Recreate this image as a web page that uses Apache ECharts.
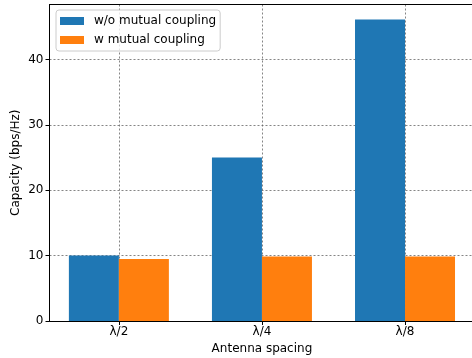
<!DOCTYPE html>
<html>
<head>
<meta charset="utf-8">
<script src="https://cdn.jsdelivr.net/npm/echarts@6/dist/echarts.min.js"></script>
<style>
  html, body { margin: 0; padding: 0; background: #fff; overflow: hidden; }
  /* a bit wider than the window: the right spine sits just off the picture */
  #chart { width: 476px; height: 358px; }
</style>
</head>
<body>
<div id="chart"></div>
<script>
// data
var categories = ['λ/2', 'λ/4', 'λ/8'];
var withoutCoupling = [10.0, 25.0, 46.1];
var withCoupling = [9.5, 9.85, 9.85];
var yTicks = [0, 10, 20, 30, 40];
var catPos = [0, 1, 2];

var font = 'DejaVu Sans';
var gridStyle = { color: '#666', type: [2, 2], width: 0.8 };
var xMin = -0.485, xMax = 2.485;

function toPoints(vals) {
	var out = [];
	for (var i = 0; i < vals.length; i++) {
		out.push([catPos[i], vals[i]]);
	}
	return out;
}

$chart = echarts.init(document.getElementById('chart'));
$chart.setOption({
	animation: false,
	textStyle: { fontFamily: font },
	grid: {
		left: 49.5, top: 4.5, bottom: 37, right: 1.6,
		containLabel: false, outerBoundsMode: 'none',
		show: false
	},
	legend: {
		orient: 'vertical',
		left: 56, top: 10,
		itemWidth: 24, itemHeight: 8, itemGap: 7,
		icon: 'rect',
		padding: [5, 4, 5, 4],
		backgroundColor: 'rgba(255,255,255,0.8)',
		borderColor: '#ccc', borderWidth: 1, borderRadius: 3,
		textStyle: { fontFamily: font, fontSize: 12, color: '#000', padding: [0, 0, 0, 5] },
		data: ['w/o mutual coupling', 'w mutual coupling']
	},
	xAxis: [{
		type: 'value',
		min: xMin, max: xMax,
		name: 'Antenna spacing', nameLocation: 'middle', nameGap: 22, nameMoveOverlap: false,
		nameTextStyle: { fontFamily: font, fontSize: 12, color: '#000' },
		axisLine: { onZero: false, lineStyle: { color: '#000', width: 1 } },
		axisTick: { customValues: catPos, length: 4, lineStyle: { color: '#000' } },
		axisLabel: {
			customValues: catPos, margin: 5,
			fontFamily: font, fontSize: 12, color: '#000',
			formatter: function (v) { return categories[Math.round(v)]; }
		},
		splitLine: { show: true, lineStyle: gridStyle }
	}, {
		// top spine only
		type: 'value', position: 'top',
		min: xMin, max: xMax,
		axisLine: { show: true, onZero: false, lineStyle: { color: '#000', width: 1 } },
		axisTick: { show: false },
		axisLabel: { show: false },
		splitLine: { show: false }
	}],
	yAxis: {
		type: 'value',
		min: 0, max: 48.4, interval: 10,
		name: 'Capacity (bps/Hz)', nameLocation: 'middle', nameGap: 28, nameMoveOverlap: false,
		nameTextStyle: { fontFamily: font, fontSize: 12, color: '#000' },
		axisLine: { show: true, onZero: false, lineStyle: { color: '#000', width: 1 } },
		axisTick: { show: true, length: 4, lineStyle: { color: '#000' } },
		axisLabel: {
			showMaxLabel: false, margin: 6,
			fontFamily: font, fontSize: 12, color: '#000',
			formatter: function (v) { return yTicks.indexOf(v) >= 0 ? String(v) : ''; }
		},
		splitLine: { show: true, showMinLine: false, showMaxLine: false, lineStyle: gridStyle }
	},
	series: [{
		name: 'w/o mutual coupling',
		type: 'bar',
		data: toPoints(withoutCoupling),
		barWidth: 50, barGap: '0%',
		itemStyle: { color: '#1f77b4' }
	}, {
		name: 'w mutual coupling',
		type: 'bar',
		data: toPoints(withCoupling),
		barWidth: 50, barGap: '0%',
		itemStyle: { color: '#ff7f0e' }
	}]
});
</script>
</body>
</html>
